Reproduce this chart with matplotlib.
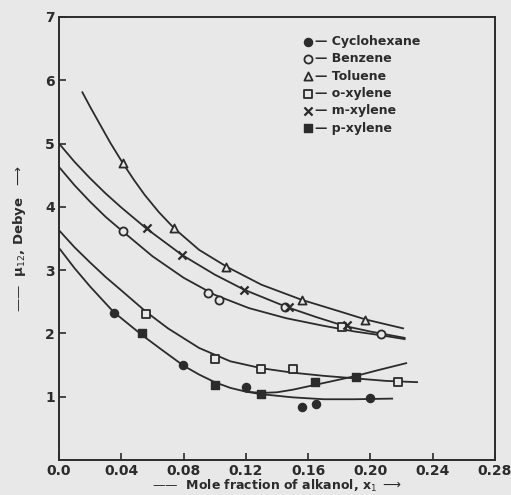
import matplotlib.pyplot as plt

# fitted curves
tol_cx = [0.015, 0.02, 0.025, 0.033, 0.041, 0.048, 0.055, 0.064, 0.074, 0.09, 0.108, 0.13, 0.156, 0.18, 0.197, 0.221]
tol_cy = [5.81, 5.58, 5.36, 5.01, 4.69, 4.43, 4.19, 3.92, 3.66, 3.32, 3.05, 2.77, 2.53, 2.35, 2.22, 2.08]

mxy_cx = [0.0, 0.01, 0.02, 0.03, 0.04, 0.056, 0.079, 0.10, 0.119, 0.146, 0.165, 0.183, 0.20, 0.222]
mxy_cy = [5.0, 4.71, 4.45, 4.21, 3.99, 3.66, 3.24, 2.93, 2.69, 2.42, 2.26, 2.12, 2.03, 1.93]

ben_cx = [0.0, 0.01, 0.02, 0.03, 0.041, 0.06, 0.08, 0.10, 0.122, 0.146, 0.17, 0.19, 0.207, 0.222]
ben_cy = [4.63, 4.34, 4.08, 3.84, 3.61, 3.22, 2.88, 2.61, 2.40, 2.24, 2.12, 2.03, 1.97, 1.91]

oxy_cx = [0.0, 0.01, 0.02, 0.03, 0.04, 0.056, 0.07, 0.09, 0.11, 0.13, 0.15, 0.17, 0.19, 0.21, 0.23]
oxy_cy = [3.63, 3.36, 3.12, 2.89, 2.68, 2.34, 2.08, 1.77, 1.56, 1.45, 1.38, 1.33, 1.29, 1.25, 1.23]

cyc_cx = [0.0, 0.01, 0.02, 0.035, 0.053, 0.065, 0.08, 0.09, 0.10, 0.11, 0.12, 0.13, 0.15, 0.17, 0.19, 0.214]
cyc_cy = [3.35, 3.03, 2.74, 2.34, 1.98, 1.76, 1.49, 1.35, 1.23, 1.14, 1.08, 1.04, 0.99, 0.96, 0.96, 0.97]

pxy_cx = [0.12, 0.13, 0.14, 0.15, 0.165, 0.18, 0.191, 0.205, 0.223]
pxy_cy = [1.08, 1.06, 1.07, 1.11, 1.19, 1.27, 1.33, 1.42, 1.53]

# measured points
cyc_x = [0.035, 0.0794, 0.12, 0.156, 0.165, 0.20]
cyc_y = [2.33, 1.50, 1.15, 0.84, 0.88, 0.98]
ben_x = [0.041, 0.096, 0.1026, 0.145, 0.207]
ben_y = [3.62, 2.64, 2.53, 2.42, 1.99]
tol_x = [0.041, 0.0736, 0.1075, 0.156, 0.1965]
tol_y = [4.69, 3.66, 3.05, 2.53, 2.21]
oxy_x = [0.056, 0.1005, 0.130, 0.150, 0.182, 0.2177]
oxy_y = [2.31, 1.60, 1.44, 1.44, 2.10, 1.23]
mxy_x = [0.0563, 0.079, 0.119, 0.148, 0.185]
mxy_y = [3.66, 3.24, 2.69, 2.41, 2.13]
pxy_x = [0.053, 0.1005, 0.13, 0.1645, 0.191]
pxy_y = [2.00, 1.19, 1.04, 1.24, 1.31]

labels = ["Cyclohexane", "Benzene", "Toluene", "o-xylene", "m-xylene", "p-xylene"]
xticks = [0.0, 0.04, 0.08, 0.12, 0.16, 0.20, 0.24, 0.28]
xticklabels = ["0.0", "0.04", "0.08", "0.12", "0.16", "0.20", "0.24", "0.28"]
yticks = [1, 2, 3, 4, 5, 6, 7]

bg = "#e8e8e8"
ink = "#2b2b2b"

plt.rcParams['font.family'] = ['DejaVu Sans']
fig = plt.figure(figsize=(5.11, 4.95), dpi=100, facecolor=bg)
ax = fig.add_axes([0.1155, 0.0707, 0.853, 0.895], facecolor=bg)

for cx, cy in [(tol_cx, tol_cy), (mxy_cx, mxy_cy), (ben_cx, ben_cy),
               (oxy_cx, oxy_cy), (cyc_cx, cyc_cy), (pxy_cx, pxy_cy)]:
    ax.plot(cx, cy, color=ink, lw=1.3, zorder=2, solid_joinstyle='round')

ms = 34
ax.scatter(cyc_x, cyc_y, s=ms, marker='o', color=ink, zorder=3, label="— " + labels[0])
ax.scatter(ben_x, ben_y, s=ms, marker='o', facecolor=bg, edgecolor=ink, linewidth=1.3, zorder=3, label="— " + labels[1])
ax.scatter(tol_x, tol_y, s=ms, marker='^', facecolor=bg, edgecolor=ink, linewidth=1.3, zorder=3, label="— " + labels[2])
ax.scatter(oxy_x, oxy_y, s=ms, marker='s', facecolor=bg, edgecolor=ink, linewidth=1.3, zorder=3, label="— " + labels[3])
ax.scatter(mxy_x, mxy_y, s=ms, marker='x', color=ink, linewidth=1.6, zorder=3, label="— " + labels[4])
ax.scatter(pxy_x, pxy_y, s=ms, marker='s', color=ink, zorder=3, label="— " + labels[5])

ax.set_xlim(0, 0.28)
ax.set_ylim(0, 7)
ax.set_xticks(xticks)
ax.set_xticklabels(xticklabels)
ax.set_yticks(yticks)
ax.tick_params(direction='in', length=5, width=1.2, colors=ink, labelsize=10, pad=3)
for lab in ax.get_xticklabels() + ax.get_yticklabels():
    lab.set_fontweight('bold')
for sp in ax.spines.values():
    sp.set_color(ink)
    sp.set_linewidth(1.4)

ax.set_xlabel("——  Mole fraction of alkanol, x$_1$ $\\longrightarrow$",
              fontsize=9, fontweight='bold', color=ink, labelpad=0)
ax.set_ylabel("——  μ$_{12}$, Debye  $\\longrightarrow$",
              fontsize=9.5, fontweight='bold', color=ink, labelpad=12)

leg = ax.legend(loc='upper left', bbox_to_anchor=(0.53, 0.985), frameon=False,
                handletextpad=0.1, handlelength=1.0, labelspacing=0.35,
                prop={'size': 9, 'weight': 'bold'})
for t in leg.get_texts():
    t.set_color(ink)

plt.savefig("out.png", dpi=100, facecolor=bg)
